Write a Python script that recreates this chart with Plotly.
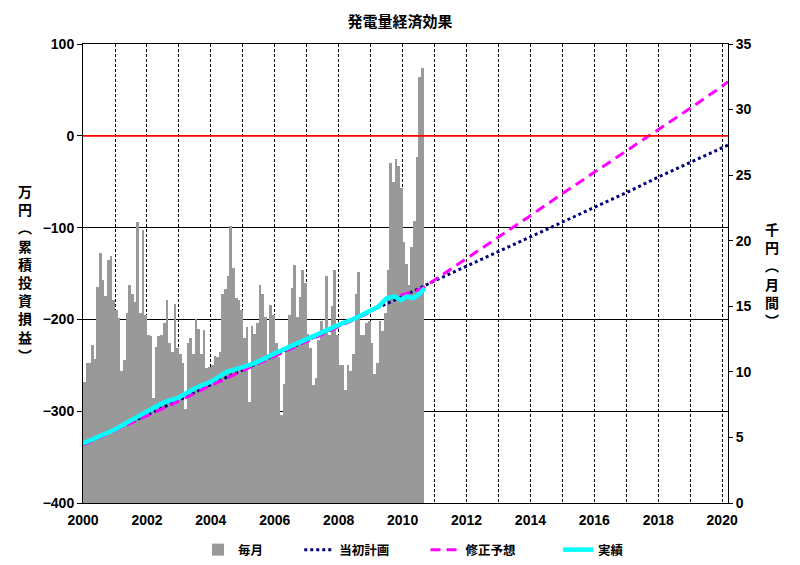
import plotly.graph_objects as go
import pandas as pd

# ---- data ----
# monthly economic effect (千円), Jan 2000 .. Aug 2010
monthly = [
    9.25, 10.65, 10.65, 12.05, 11.0, 16.5, 19.1, 17.0, 15.8, 18.5, 18.8, 15.5,   # 2000
    14.7, 14.1, 10.1, 10.9, 14.5, 16.6, 15.9, 15.35, 21.45, 14.5, 20.8, 14.3,    # 2001
    12.8, 12.7, 8.0, 11.9, 12.7, 12.8, 13.7, 15.5, 12.2, 11.5, 15.2, 11.8,       # 2002
    11.4, 10.65, 7.2, 12.2, 12.55, 11.4, 14.0, 13.3, 11.4, 13.2, 10.3, 10.4,     # 2003
    10.5, 11.2, 11.15, 11.5, 15.9, 16.3, 17.3, 21.1, 17.9, 15.6, 15.5, 14.7,     # 2004
    12.55, 13.45, 7.7, 13.5, 12.9, 13.75, 16.6, 15.9, 14.2, 11.15, 15.1, 14.3,   # 2005
    12.2, 11.15, 6.7, 9.1, 11.5, 14.3, 16.4, 18.15, 14.2, 15.7, 17.8, 16.75,     # 2006
    12.9, 11.8, 9.0, 9.5, 12.4, 13.9, 13.1, 17.3, 12.8, 15.0, 17.8, 12.8,        # 2007
    10.5, 10.5, 8.6, 10.5, 10.1, 11.4, 15.9, 17.6, 12.8, 12.8, 13.7, 13.9,       # 2008
    12.2, 9.8, 10.65, 13.9, 13.1, 14.5, 17.8, 25.9, 24.5, 26.2, 25.7, 24.0,      # 2009
    19.9, 18.2, 16.6, 19.5, 21.5, 26.4, 32.5, 33.2,                              # 2010
]
month_dates = pd.date_range("2000-01-01", periods=len(monthly), freq="MS")

# 当初計画 (万円, cumulative)
plan_dates = ["2000-01-01", "2001-01-01", "2002-01-01", "2003-01-01", "2004-01-01",
              "2005-01-01", "2006-01-01", "2007-01-01", "2008-01-01", "2009-01-01",
              "2010-01-01", "2011-01-01", "2012-01-01", "2013-01-01", "2014-01-01",
              "2015-01-01", "2016-01-01", "2017-01-01", "2018-01-01", "2019-01-01",
              "2020-01-01", "2020-03-08"]
plan_vals = [-336, -320, -304, -288, -271, -255, -239, -223, -207, -191,
             -175, -158, -142, -126, -110, -94, -78, -62, -45, -29, -13, -10]

# 修正予想 (万円, cumulative)
fc_dates = ["2000-01-01", "2001-01-01", "2002-01-01", "2003-01-01", "2004-01-01",
            "2005-01-01", "2006-01-01", "2007-01-01", "2008-01-01", "2009-01-01",
            "2009-07-01", "2010-01-01", "2010-08-01", "2011-01-01", "2012-01-01",
            "2013-01-01", "2014-01-01", "2015-01-01", "2016-01-01", "2017-01-01",
            "2018-01-01", "2019-01-01", "2020-01-01", "2020-03-08"]
fc_vals = [-337, -321, -305, -289, -272, -256, -240, -224, -208, -192,
           -178, -173, -167, -157, -134, -110, -87, -63, -40, -16,
           7, 30, 54, 59]

# 実績 (万円, cumulative)
act_dates = ["2000-01-01", "2000-07-01", "2001-01-01", "2001-07-01", "2002-01-01",
             "2002-07-01", "2003-01-01", "2003-07-01", "2004-01-01", "2004-07-01",
             "2005-01-01", "2005-06-01", "2006-01-01", "2006-07-01", "2007-01-01",
             "2007-07-01", "2008-01-01", "2008-07-01", "2009-01-01", "2009-04-01",
             "2009-07-01", "2009-10-01", "2009-12-15", "2010-02-15", "2010-05-01",
             "2010-07-15", "2010-09-10"]
act_vals = [-335, -328, -320, -310, -300, -291, -285, -275, -268, -257,
            -252, -247, -237, -229, -222, -214, -206, -199, -191, -186,
            -177, -175, -179, -175, -177, -172, -166]

names = ["毎月", "当初計画", "修正予想", "実績"]
title_text = "発電量経済効果"
left_title = ["万", "円", "︵", "累", "積", "投", "資", "損", "益", "︶"]
right_title = ["千", "円", "︵", "月", "間", "︶"]

JP = "Noto Sans CJK JP"
NUM = "Liberation Sans"
DAY_MS = 86400000

# page geometry (the page body adds an 8px offset)
W, H = 792, 557
ML, MR, MT, MB = 75, 72, 36, 0
PAPER_H = H - MT - MB          # 521
PLOT_H = 459
Y0 = (PAPER_H - PLOT_H) / PAPER_H

fig = go.Figure()
fig.add_trace(go.Bar(
    x=month_dates, y=monthly, name=names[0] + "\u3000\u3000\u2002",
    width=31 * DAY_MS, offset=0,
    marker=dict(color="#999999", line=dict(width=0)),
    yaxis="y",
))
fig.add_trace(go.Scatter(
    x=plan_dates, y=plan_vals, name=names[1] + "\u3000\u3000\u2002", mode="lines",
    line=dict(color="#000080", width=3, dash="dot"), yaxis="y2",
))
fig.add_trace(go.Scatter(
    x=fc_dates, y=fc_vals, name=names[2] + "\u3000\u3000\u3000", mode="lines",
    line=dict(color="#FF00FF", width=3, dash="10px,6px"), yaxis="y2",
))
fig.add_trace(go.Scatter(
    x=act_dates, y=act_vals, name=names[3], mode="lines",
    line=dict(color="#00FFFF", width=4.5), yaxis="y2",
))

tickfont = dict(family=NUM, size=14, color="black", weight="bold")
fig.update_layout(
    width=W, height=H,
    margin=dict(l=ML, r=MR, t=MT, b=MB, pad=0, autoexpand=False),
    paper_bgcolor="white", plot_bgcolor="white",
    bargap=0,
    title=dict(text=title_text, x=392 / W, xref="container", xanchor="center",
               y=1 - 14 / H, yanchor="middle",
               font=dict(family=JP, size=15, color="black", weight="bold")),
    xaxis=dict(
        type="date", range=["2000-01-01", "2020-03-08"],
        tick0="2000-01-01", dtick="M24", tickformat="%Y",
        showgrid=True, gridcolor="black", gridwidth=1, griddash="3px,2px",
        minor=dict(dtick="M12", showgrid=True, gridcolor="black",
                   gridwidth=1, griddash="3px,2px"),
        showline=True, linecolor="black", linewidth=1, mirror=True,
        ticks="", tickfont=tickfont, zeroline=False, automargin=False,
        ticklabelstandoff=4,
    ),
    yaxis=dict(
        domain=[Y0, 1],
        side="right", range=[0, 35], dtick=5, tick0=0,
        showgrid=False, zeroline=False,
        showline=True, linecolor="black", linewidth=1,
        ticks="outside", ticklen=4, tickcolor="black",
        tickfont=tickfont, automargin=False,
    ),
    yaxis2=dict(
        domain=[Y0, 1],
        overlaying="y", side="left", range=[-400, 100], dtick=100, tick0=0,
        showgrid=True, gridcolor="black", gridwidth=1, zeroline=False,
        showline=True, linecolor="black", linewidth=1,
        ticks="outside", ticklen=5, tickcolor="black",
        tickfont=tickfont, automargin=False,
    ),
    legend=dict(orientation="h", x=(190 - ML) / 645, xanchor="left",
                y=15 / PAPER_H, yanchor="middle",
                font=dict(family=JP, size=12.5, color="black", weight="bold"),
                bgcolor="rgba(0,0,0,0)", traceorder="normal"),
    shapes=[dict(type="line", xref="paper", x0=0, x1=1, yref="y2", y0=0, y1=0,
                 line=dict(color="red", width=1.8), layer="above")],
    annotations=[
        dict(text="<br>".join(left_title),
             xref="paper", yref="paper", x=(17 - ML) / 645, y=(557 - 265) / PAPER_H,
             xanchor="center", yanchor="middle", showarrow=False,
             font=dict(family=JP, size=14, color="black", weight="bold")),
        dict(text="<br>".join(right_title),
             xref="paper", yref="paper", x=(764 - ML) / 645, y=(557 - 266) / PAPER_H,
             xanchor="center", yanchor="middle", showarrow=False,
             font=dict(family=JP, size=14, color="black", weight="bold")),
    ],
)

fig.write_html("out.html")
